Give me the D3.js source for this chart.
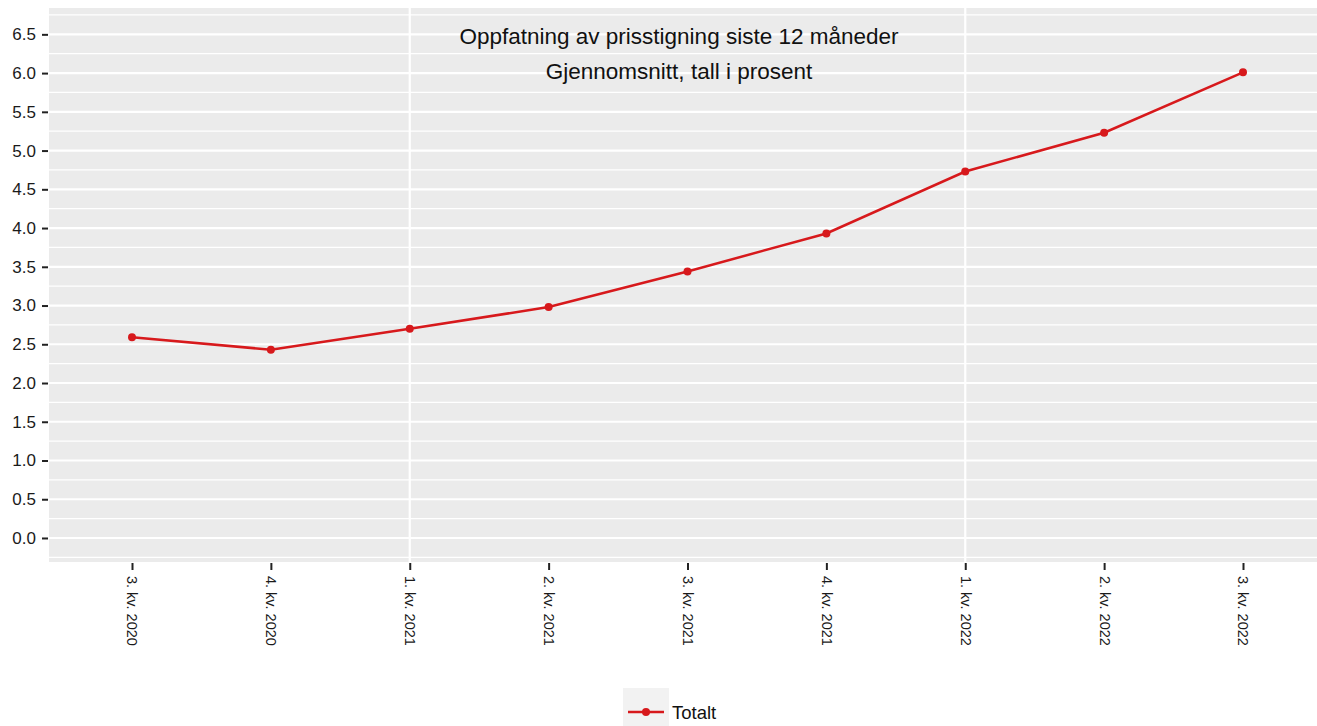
<!DOCTYPE html>
<html>
<head>
<meta charset="utf-8">
<script src="https://cdn.jsdelivr.net/npm/d3@7"></script>
<style>
  body { margin: 0; background: #ffffff; }
  #viz_container { width: 1317px; height: 726px; }
  text { font-family: "Liberation Sans", Arial, sans-serif; }
</style>
</head>
<body>
<div id="viz_container"></div>
<script>
// Data
const quarters = ["3. kv. 2020", "4. kv. 2020", "1. kv. 2021", "2. kv. 2021", "3. kv. 2021",
                  "4. kv. 2021", "1. kv. 2022", "2. kv. 2022", "3. kv. 2022"];
const totalt = [2.59, 2.43, 2.70, 2.98, 3.44, 3.93, 4.73, 5.23, 6.01];
const yTicks = [0, 0.5, 1, 1.5, 2, 2.5, 3, 3.5, 4, 4.5, 5, 5.5, 6, 6.5];
const yearBreaks = ["1. kv. 2021", "1. kv. 2022"];
const titleLines = ["Oppfatning av prisstigning siste 12 måneder", "Gjennomsnitt, tall i prosent"];
const seriesName = "Totalt";

const width = 1317;
const height = 726;
const panel = { left: 49, right: 1317, top: 8, bottom: 562 };

const svg = d3
  .select("#viz_container")
  .append("svg")
  .attr("width", width)
  .attr("height", height);

const x = d3
  .scalePoint()
  .domain(quarters)
  .range([panel.left + 83, panel.right - 74]);

const y = d3
  .scaleLinear()
  .domain([-0.31, 6.84])
  .range([panel.bottom, panel.top]);

// panel background
svg.append("rect")
  .attr("x", panel.left)
  .attr("y", panel.top)
  .attr("width", panel.right - panel.left)
  .attr("height", panel.bottom - panel.top)
  .attr("fill", "#EBEBEB");

// minor horizontal grid
const minor = d3.range(-0.25, 6.8, 0.5);
svg.append("g")
  .selectAll("line")
  .data(minor)
  .enter()
  .append("line")
  .attr("x1", panel.left)
  .attr("x2", panel.right)
  .attr("y1", (d) => y(d))
  .attr("y2", (d) => y(d))
  .attr("stroke", "#ffffff")
  .attr("stroke-width", 1.2);

// major horizontal grid
svg.append("g")
  .selectAll("line")
  .data(yTicks)
  .enter()
  .append("line")
  .attr("x1", panel.left)
  .attr("x2", panel.right)
  .attr("y1", (d) => y(d))
  .attr("y2", (d) => y(d))
  .attr("stroke", "#ffffff")
  .attr("stroke-width", 2.2);

// vertical grid at years
svg.append("g")
  .selectAll("line")
  .data(yearBreaks)
  .enter()
  .append("line")
  .attr("x1", (d) => x(d))
  .attr("x2", (d) => x(d))
  .attr("y1", panel.top)
  .attr("y2", panel.bottom)
  .attr("stroke", "#ffffff")
  .attr("stroke-width", 2.2);

// y axis
const yAxis = svg.append("g")
  .attr("transform", `translate(${panel.left - 1},0)`)
  .call(d3.axisLeft(y).tickValues(yTicks).tickFormat(d3.format(".1f")).tickSize(6).tickPadding(6));
yAxis.select(".domain").remove();
yAxis.selectAll(".tick line").attr("stroke", "#222").attr("stroke-width", 2);
yAxis.selectAll("text")
  .attr("fill", "#1a1a1a")
  .style("font-size", "17px");

// x axis
const xAxis = svg.append("g")
  .attr("transform", `translate(0,${panel.bottom + 1})`)
  .call(d3.axisBottom(x).tickSize(7).tickPadding(4));
xAxis.select(".domain").remove();
xAxis.selectAll(".tick line").attr("stroke", "#222").attr("stroke-width", 2);
xAxis.selectAll("text")
  .attr("fill", "#1a1a1a")
  .style("font-size", "14.5px")
  .attr("transform", "rotate(90)")
  .attr("x", 13)
  .attr("y", 0)
  .attr("dy", "0.35em")
  .attr("text-anchor", "start");

// line
const lineGen = d3.line()
  .x((d, i) => x(quarters[i]))
  .y((d) => y(d));

const red = "#D7191C";

svg.append("path")
  .datum(totalt)
  .attr("fill", "none")
  .attr("stroke", red)
  .attr("stroke-width", 2.5)
  .attr("d", lineGen);

svg.append("g")
  .selectAll("circle")
  .data(totalt)
  .enter()
  .append("circle")
  .attr("cx", (d, i) => x(quarters[i]))
  .attr("cy", (d) => y(d))
  .attr("r", 4)
  .attr("fill", red);

// title
svg.append("g")
  .selectAll("text")
  .data(titleLines)
  .enter()
  .append("text")
  .attr("x", 679)
  .attr("y", (d, i) => 44 + i * 35)
  .attr("text-anchor", "middle")
  .attr("fill", "#111")
  .style("font-size", "22.5px")
  .text((d) => d);

// legend
const legend = svg.append("g").attr("transform", "translate(623,688)");
legend.append("rect")
  .attr("width", 46)
  .attr("height", 38)
  .attr("fill", "#F2F2F2");
legend.append("line")
  .attr("x1", 5)
  .attr("x2", 41)
  .attr("y1", 24)
  .attr("y2", 24)
  .attr("stroke", red)
  .attr("stroke-width", 2.5);
legend.append("circle")
  .attr("cx", 23)
  .attr("cy", 24)
  .attr("r", 4)
  .attr("fill", red);
legend.append("text")
  .attr("x", 49)
  .attr("y", 31)
  .attr("fill", "#111")
  .style("font-size", "18.5px")
  .text(seriesName);
</script>
</body>
</html>
